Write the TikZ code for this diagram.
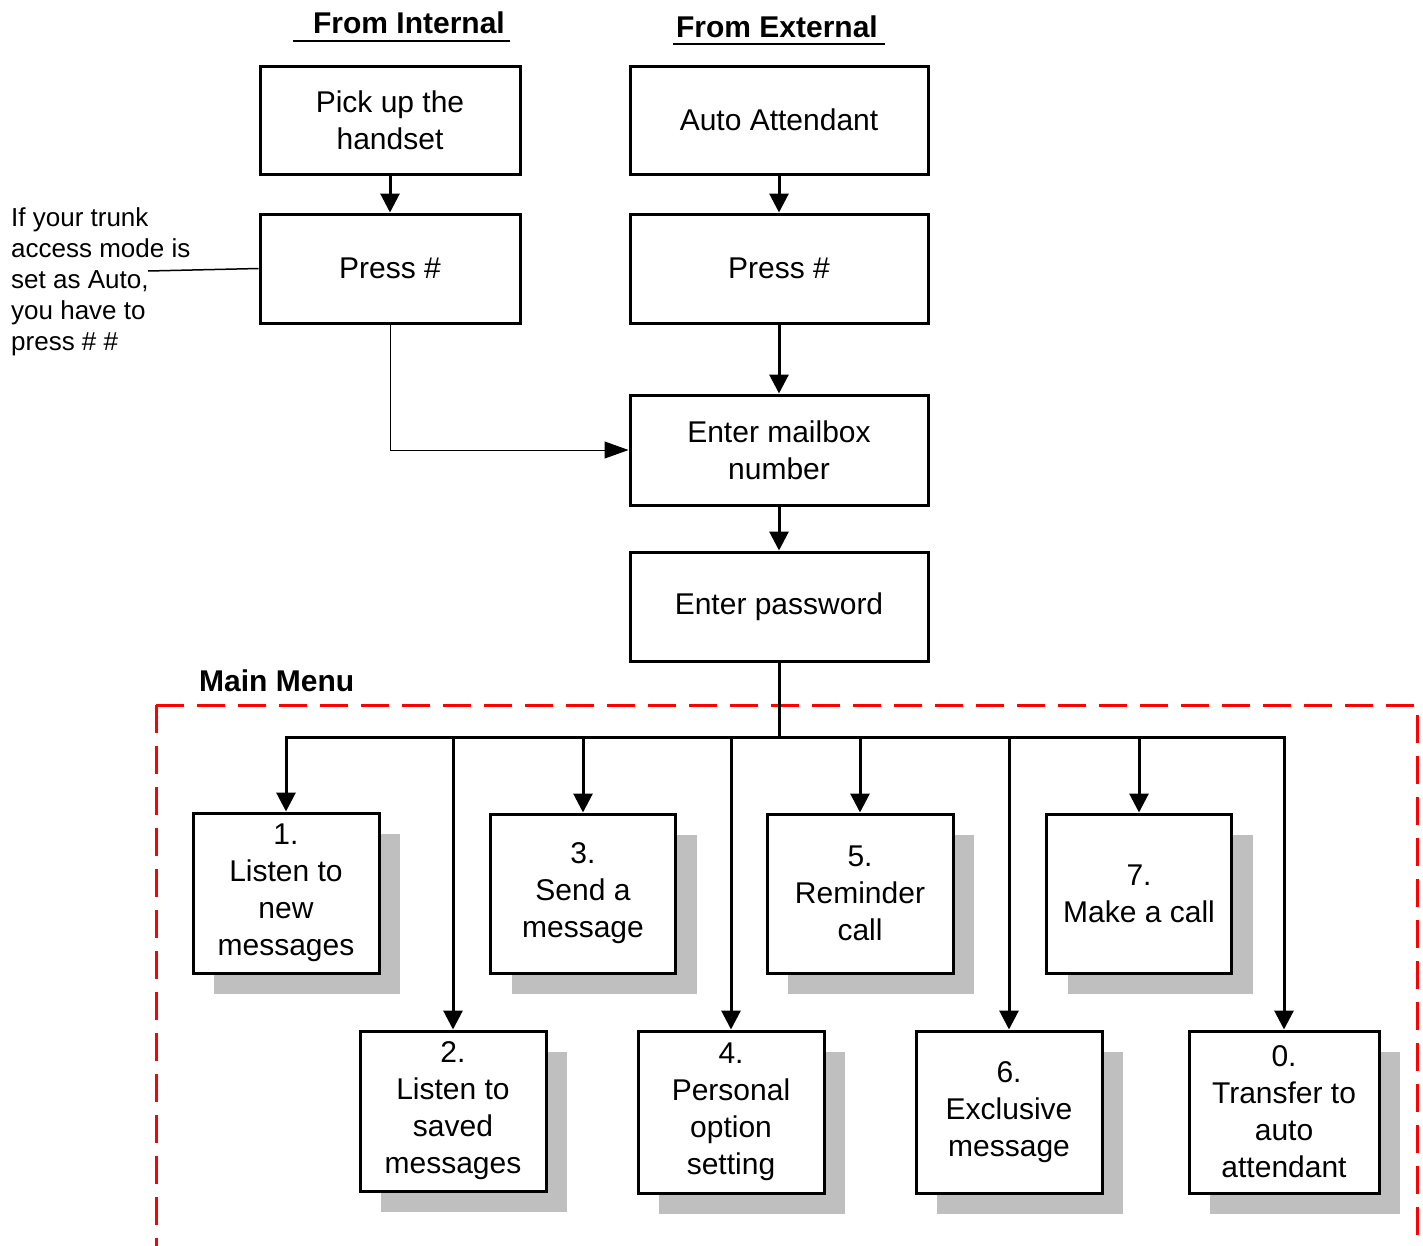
\documentclass[tikz,border=0pt]{standalone}
\usepackage{fontspec}
\setmainfont{Liberation Sans}
\usetikzlibrary{arrows.meta,shadows}
\begin{document}
\begin{tikzpicture}[x=1pt,y=-1pt,
  box/.style={draw, line width=3pt, fill=white, align=center, inner sep=0pt,
    font=\fontsize{30}{37}\selectfont},
  sbox/.style={box, drop shadow={shadow xshift=21pt, shadow yshift=-21pt, fill=black!25, opacity=1}},
  arr/.style={line width=3pt, -{Triangle[length=19pt,width=19pt]}},
  thinarr/.style={line width=1pt, -{Triangle[length=24pt,width=17pt]}},
  title/.style={font=\fontsize{30}{37}\selectfont\bfseries, inner sep=0pt},
  menuline/.style={red, line width=3pt, dash pattern=on 27.5pt off 13.5pt}
]
\useasboundingbox (0,0) rectangle (1423,1245);
\clip (0,0) rectangle (1423,1245);

% titles
\node[title] (tin) at (409,23) {From Internal};
\node[title] (tex) at (777,27) {From External};
\draw[line width=1.5pt] (293,41) -- (510,41);
\draw[line width=1.5pt] (673,44) -- (885,44);

% top boxes
\node[box, minimum width=260pt, minimum height=108pt] (pick) at (390,120) {Pick up the\\handset};
\node[box, minimum width=260pt, minimum height=109pt] (pressL) at (390,268.5) {Press \#};
\node[box, minimum width=298pt, minimum height=108pt] (auto) at (779,120) {Auto Attendant};
\node[box, minimum width=298pt, minimum height=109pt] (pressR) at (779,268.5) {Press \#};
\node[box, minimum width=298pt, minimum height=110pt] (mailbox) at (779,450) {Enter mailbox\\number};
\node[box, minimum width=298pt, minimum height=109pt] (pwd) at (779,606.5) {Enter password};

% annotation
\node[anchor=north west, inner sep=0pt, align=left, font=\fontsize{26}{31}\selectfont] (note) at (11,207)
  {If your trunk\\access mode is\\set as Auto,\\you have to\\press \# \#};
\coordinate (noteend) at (148,271);
\draw[line width=1.5pt] (noteend) -- (pressL.west);

% top connectors
\draw[arr] (pick) -- (pressL);
\draw[arr] (auto) -- (pressR);
\draw[arr] (pressR) -- (mailbox);
\draw[arr] (mailbox) -- (pwd);
\draw[thinarr] (pressL.south) |- (mailbox.west);

% main menu
\node[title, anchor=west] (mm) at (199,681) {Main Menu};
\draw[menuline] (156,705) -- (156,1250);
\draw[menuline] (156,705) -- (1417,705) -- (1417,1250);

% menu boxes
\node[sbox, minimum width=186pt, minimum height=160pt] (b1) at (286,893) {1.\\Listen to\\new\\messages};
\node[sbox, minimum width=185pt, minimum height=159pt] (b3) at (583,893.5) {3.\\Send a\\message};
\node[sbox, minimum width=186pt, minimum height=159pt] (b5) at (860,893.5) {5.\\Reminder\\call};
\node[sbox, minimum width=185pt, minimum height=159pt] (b7) at (1139,893.5) {7.\\Make a call};
\node[sbox, minimum width=186pt, minimum height=160pt] (b2) at (453,1111) {2.\\Listen to\\saved\\messages};
\node[sbox, minimum width=186pt, minimum height=162pt] (b4) at (731,1112) {4.\\Personal\\option\\setting};
\node[sbox, minimum width=186pt, minimum height=162pt] (b6) at (1009,1112) {6.\\Exclusive\\message};
\node[sbox, minimum width=190pt, minimum height=162pt] (b0) at (1284,1112) {0.\\Transfer to\\auto\\attendant};

% bus
\coordinate (bus) at (779,737);
\draw[line width=3pt] (pwd.south) -- (bus);
\draw[arr] (bus) -| (b1.north);
\draw[arr] (bus) -| (b0.north);
\foreach \b in {b2,b3,b4,b5,b6,b7}
  \draw[arr] (\b.north |- bus) -- (\b.north);
\end{tikzpicture}
\end{document}
